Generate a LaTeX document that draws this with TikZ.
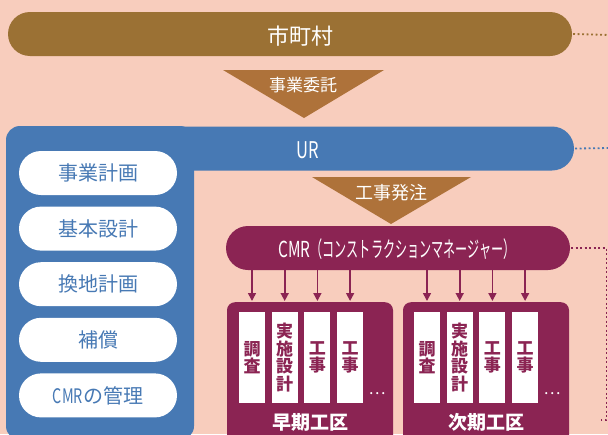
\documentclass[tikz,border=0pt]{standalone}
\usepackage{fontspec}
\setmainfont{Noto Sans CJK JP}
\usepackage{graphicx}
\usetikzlibrary{shapes.misc, arrows.meta, positioning}
\definecolor{peach}{HTML}{F8CDBD}
\definecolor{citybrown}{HTML}{9B7134}
\definecolor{tribrown}{HTML}{AE723A}
\definecolor{urblue}{HTML}{4779B4}
\definecolor{cmrpurple}{HTML}{8B2453}
\tikzstyle{bar}=[rounded rectangle, minimum height=44pt, inner sep=0pt]
\tikzstyle{pill}=[rounded rectangle, fill=white, text=urblue, minimum width=158pt, minimum height=44pt, inner sep=0pt, font=\fontsize{20}{24}\selectfont]
\tikzstyle{slat}=[fill=white, text=cmrpurple, minimum width=26pt, minimum height=91pt, inner sep=0pt, align=center, font=\bfseries\fontsize{17}{17.5}\selectfont]
\tikzstyle{area}=[fill=cmrpurple, rounded corners=8pt, minimum width=166pt, minimum height=150pt, inner sep=0pt, anchor=north]
\tikzstyle{wtext}=[text=white, inner sep=0pt]
\tikzstyle{flow}=[cmrpurple, line width=1.6pt, -{Triangle[width=8pt,length=8pt]}, shorten >=1pt]
\tikzstyle{dots}=[line width=1.8pt, dash pattern=on 1.8pt off 2.7pt]
\newcommand{\narrow}[1]{\scalebox{0.72}[1]{#1}}

\begin{document}
\begin{tikzpicture}[x=1pt,y=-1pt]
  \useasboundingbox (0,0) rectangle (608,434);
  \clip (0,0) rectangle (608,434);
  \fill[peach] (0,0) rectangle (608,434);

  % city
  \node[bar, fill=citybrown, minimum width=564pt] (city) at (290,34) {};
  \node[wtext, font=\fontsize{22}{26}\selectfont] (citytext) at (300,36) {市町村};
  \coordinate (cityend) at (610,35);
  \draw[dots, citybrown] (city.east) ++(1,0) -- (cityend);
  \fill[tribrown] (223,70) -- (384,70) -- (304,118) -- cycle;
  \node[wtext, font=\fontsize{17}{20}\selectfont] (commission) at (303,85) {事業委託};

  % UR
  \fill[urblue, rounded corners=14pt] (6,440) -- (6,126) -- (194,126) -- (194,440) -- cycle;
  \node[bar, fill=urblue, minimum width=568pt] (ur) at (290,148.5) {};
  \node[wtext, font=\fontsize{23}{26}\selectfont] (urtext) at (308,150) {\narrow{UR}};
  \coordinate (urend) at (610,148);
  \draw[dots, urblue] (ur.east) ++(1,0) -- (urend);
  \node[pill] (plan) at (98,173) {事業計画};
  \node[pill, below=11.2pt of plan] (basic) {基本設計};
  \node[pill, below=11.2pt of basic] (replot) {換地計画};
  \node[pill, below=11.2pt of replot] (comp) {補償};
  \node[pill, below=11.2pt of comp] (manage) {\narrow{CMR}の管理};
  \fill[tribrown] (312,177) -- (471,177) -- (391,224) -- cycle;
  \node[wtext, font=\fontsize{18}{20}\selectfont] (order) at (391,193) {工事発注};

  % CMR
  \node[bar, fill=cmrpurple, minimum width=344pt] (cmr) at (398,248) {};
  \node[wtext, font=\fontsize{22}{24}\selectfont] (cmrtext) at (397,249)
    {\scalebox{0.7}[1]{CMR}\scalebox{0.55}[1]{（コンストラクションマネージャー）}};
  \coordinate (cmrturn) at (606.5,248);
  \coordinate (cmrdown) at (606.5,420);
  \coordinate (cmrend) at (598,420);
  \draw[dots, cmrpurple] (cmr.east) ++(1,0) -- (cmrturn) -- (cmrdown) -- (cmrend);

  % work areas
  \node[area] (early) at (310,302) {};
  \node[area] (next) at (486,302) {};
  \node[slat] (early1) at (252,357.5) {調\\査};
  \node[slat, right=6.3pt of early1] (early2) {実\\施\\設\\計};
  \node[slat, right=6.3pt of early2] (early3) {工\\事};
  \node[slat, right=6.3pt of early3] (early4) {工\\事};
  \node[slat] (next1) at (427,357.5) {調\\査};
  \node[slat, right=6.3pt of next1] (next2) {実\\施\\設\\計};
  \node[slat, right=6.3pt of next2] (next3) {工\\事};
  \node[slat, right=6.3pt of next3] (next4) {工\\事};
  \node[wtext, font=\fontsize{16}{18}\selectfont] (earlydots) at (377,394) {…};
  \node[wtext, font=\fontsize{16}{18}\selectfont] (nextdots) at (552,394) {…};
  \node[wtext, font=\bfseries\fontsize{19}{22}\selectfont] (earlyname) at (310,422) {早期工区};
  \node[wtext, font=\bfseries\fontsize{19}{22}\selectfont] (nextname) at (486,422) {次期工区};
  \foreach \s in {early1,early2,early3,early4}
    \draw[flow] (cmr.south -| \s) -- (early.north -| \s);
  \foreach \s in {next1,next2,next3,next4}
    \draw[flow] (cmr.south -| \s) -- (next.north -| \s);
\end{tikzpicture}
\end{document}
